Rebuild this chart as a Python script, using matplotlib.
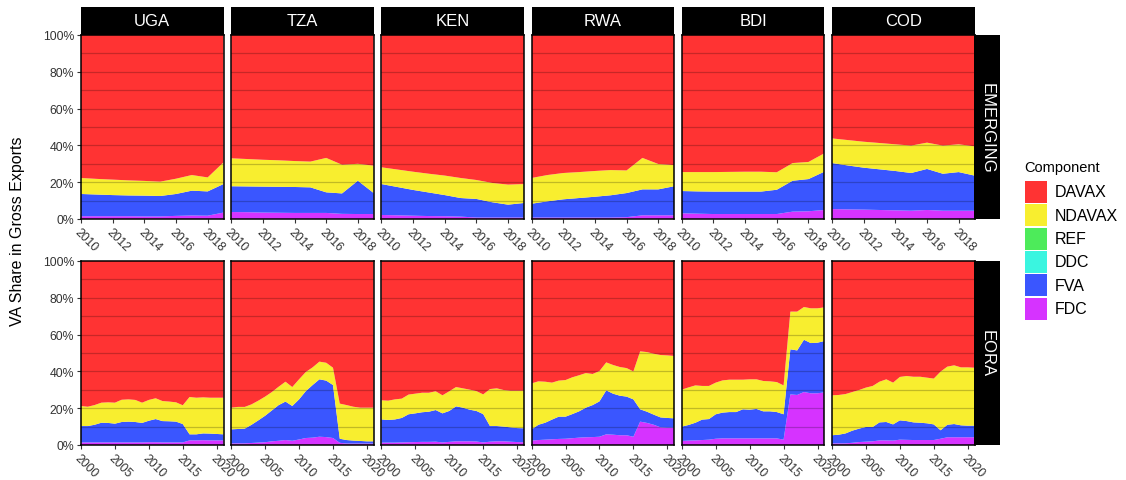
import matplotlib
matplotlib.use("Agg")
import matplotlib.pyplot as plt
from matplotlib.patches import Rectangle
from matplotlib.ticker import FuncFormatter

plt.rcParams['font.family'] = ['Liberation Sans', 'DejaVu Sans']

# Datos (porcentaje del valor agregado en exportaciones brutas)
countries = ["UGA", "TZA", "KEN", "RWA", "BDI", "COD"]
sources = ["EMERGING", "EORA"]
years_em = list(range(2010, 2020))
years_eora = list(range(2000, 2022))

components = ["DAVAX", "NDAVAX", "REF", "DDC", "FVA", "FDC"]
colors = {"DAVAX": "#FF3333", "NDAVAX": "#F8EE2F", "REF": "#4DEB5A",
          "DDC": "#3AF5E0", "FVA": "#3A56FF", "FDC": "#D633FF"}

# EMERGING 2010-2019
em_fdc = {
    "UGA": [1.5, 1.5, 1.5, 1.5, 1.4, 1.4, 1.7, 1.9, 1.8, 3.5],
    "TZA": [3.8, 3.7, 3.5, 3.4, 3.3, 3.3, 3.3, 2.8, 2.7, 2.7],
    "KEN": [2.2, 2.0, 1.8, 1.6, 1.5, 1.3, 0.8, 0.8, 0.8, 0.8],
    "RWA": [0.8, 0.8, 0.8, 0.8, 0.8, 0.8, 1.0, 2.0, 2.0, 2.0],
    "BDI": [3.1, 2.9, 2.7, 2.7, 2.7, 2.7, 2.7, 4.0, 4.2, 4.9],
    "COD": [5.4, 5.2, 5.1, 4.9, 4.7, 4.5, 4.9, 4.5, 4.5, 4.5],
}
em_fva = {
    "UGA": [12.1, 11.8, 11.5, 11.3, 11.3, 11.1, 11.9, 13.5, 13.2, 15.5],
    "TZA": [14.0, 14.0, 14.1, 14.1, 14.1, 13.9, 11.2, 11.1, 18.1, 11.4],
    "KEN": [16.8, 15.4, 14.0, 12.8, 11.5, 10.1, 10.1, 8.3, 7.0, 7.9],
    "RWA": [7.5, 8.8, 9.9, 10.6, 11.3, 12.1, 13.1, 14.1, 14.1, 15.8],
    "BDI": [12.1, 12.1, 12.2, 12.2, 12.2, 12.2, 13.2, 16.8, 17.5, 20.8],
    "COD": [25.0, 23.9, 22.8, 22.1, 21.4, 20.5, 22.3, 20.1, 21.0, 19.1],
}
em_ndavax = {
    "UGA": [8.7, 8.5, 8.4, 8.2, 8.0, 7.8, 8.3, 8.5, 7.6, 11.8],
    "TZA": [15.2, 14.9, 14.6, 14.4, 14.1, 14.0, 18.7, 15.6, 9.2, 14.9],
    "KEN": [9.1, 9.5, 9.9, 10.2, 10.6, 10.9, 10.3, 10.5, 10.9, 10.3],
    "RWA": [14.0, 14.3, 14.3, 14.1, 14.0, 13.7, 12.3, 17.1, 13.8, 11.5],
    "BDI": [10.3, 10.5, 10.6, 10.7, 10.8, 10.8, 9.5, 9.6, 9.3, 10.0],
    "COD": [13.4, 13.8, 14.1, 14.3, 14.5, 14.9, 14.3, 15.3, 15.1, 15.9],
}
em_davax = {
    "UGA": [77.7, 78.2, 78.6, 79.0, 79.3, 79.7, 78.1, 76.1, 77.4, 69.2],
    "TZA": [67.0, 67.4, 67.8, 68.1, 68.5, 68.8, 66.8, 70.5, 70.0, 71.0],
    "KEN": [71.9, 73.1, 74.3, 75.4, 76.4, 77.7, 78.8, 80.4, 81.3, 81.0],
    "RWA": [77.7, 76.1, 75.0, 74.5, 73.9, 73.4, 73.6, 66.8, 70.1, 70.7],
    "BDI": [74.5, 74.5, 74.5, 74.4, 74.3, 74.3, 74.6, 69.6, 69.0, 64.3],
    "COD": [56.2, 57.1, 58.0, 58.7, 59.4, 60.1, 58.5, 60.1, 59.4, 60.5],
}

# EORA 2000-2021
eora_fdc = {
    "UGA": [1.4, 1.4, 1.4, 1.4, 1.4, 1.4, 1.4, 1.4, 1.4, 1.4, 1.5, 1.5, 1.4, 1.4, 1.4, 1.4,
            2.5, 2.5, 2.6, 2.5, 2.5, 2.5],
    "TZA": [0.9, 0.9, 0.9, 1.1, 1.3, 1.5, 2.0, 2.3, 2.7, 2.3, 3.0, 3.8, 4.0, 4.5, 4.3, 3.8,
            1.2, 0.8, 0.8, 0.8, 0.8, 0.8],
    "KEN": [1.3, 1.3, 1.3, 1.4, 1.5, 1.6, 1.7, 1.7, 1.8, 1.4, 1.7, 2.0, 2.0, 2.0, 1.9, 1.4,
            1.8, 2.0, 2.0, 1.8, 1.6, 1.5],
    "RWA": [2.4, 2.7, 2.9, 3.1, 3.3, 3.4, 3.7, 4.0, 4.2, 4.3, 4.5, 5.8, 5.6, 5.3, 5.3, 4.5,
            12.7, 12.0, 11.0, 9.6, 9.4, 9.4],
    "BDI": [2.2, 2.4, 2.5, 2.7, 2.9, 3.4, 3.6, 3.6, 3.6, 3.6, 3.6, 3.6, 3.6, 3.6, 3.6, 2.9,
            27.5, 27.2, 28.8, 28.1, 28.1, 28.6],
    "COD": [0.9, 0.9, 0.9, 1.2, 1.6, 1.8, 2.0, 2.5, 2.5, 2.4, 2.9, 2.8, 2.7, 2.7, 2.7, 2.7,
            3.4, 4.2, 4.2, 4.2, 4.2, 4.2],
}
eora_fva = {
    "UGA": [8.9, 8.9, 9.6, 10.7, 10.6, 10.2, 11.1, 11.3, 11.1, 10.6, 11.7, 12.6, 11.6, 11.5, 11.3, 10.0,
            3.3, 3.3, 3.7, 3.7, 3.5, 3.3],
    "TZA": [7.6, 7.8, 8.0, 9.9, 12.1, 14.4, 16.8, 19.4, 20.9, 18.9, 21.8, 25.5, 28.6, 31.2, 30.7, 28.8,
            2.2, 1.9, 1.6, 1.4, 1.2, 1.2],
    "KEN": [12.6, 12.3, 12.6, 13.3, 15.2, 15.6, 16.1, 16.4, 17.2, 15.8, 16.8, 19.0, 18.3, 17.2, 16.6, 15.4,
            8.5, 8.3, 8.0, 7.8, 7.6, 7.6],
    "RWA": [6.1, 8.3, 9.2, 10.7, 12.1, 12.0, 13.1, 14.3, 16.1, 17.4, 19.2, 23.9, 22.3, 21.5, 21.0, 20.3,
            6.7, 6.1, 5.5, 5.4, 5.3, 5.1],
    "BDI": [7.8, 8.5, 9.6, 11.1, 11.2, 13.3, 14.0, 14.3, 14.3, 15.8, 15.6, 16.0, 14.7, 14.7, 14.3, 13.8,
            24.5, 24.2, 28.4, 27.3, 27.5, 27.9],
    "COD": [4.4, 4.7, 5.4, 6.6, 7.3, 8.0, 7.8, 9.8, 10.0, 8.8, 10.5, 10.2, 9.6, 9.4, 9.1, 8.5,
            4.6, 6.8, 7.2, 6.5, 6.3, 6.3],
}
eora_ndavax = {
    "UGA": [10.9, 10.5, 10.7, 10.9, 11.2, 11.4, 12.1, 12.1, 12.0, 11.0, 11.3, 11.3, 10.9, 10.7, 10.5, 10.2,
            20.3, 19.9, 19.6, 19.5, 19.7, 19.9],
    "TZA": [11.8, 12.0, 11.8, 11.1, 10.7, 10.4, 10.0, 10.0, 10.8, 10.3, 10.9, 10.4, 9.6, 9.6, 9.7, 9.4,
            19.1, 19.0, 18.4, 18.1, 18.3, 18.3],
    "KEN": [10.4, 10.5, 10.9, 10.5, 10.7, 10.7, 10.6, 10.3, 10.2, 9.8, 10.7, 10.5, 10.5, 10.9, 10.8, 10.7,
            20.1, 20.5, 19.9, 19.9, 20.3, 20.4],
    "RWA": [25.0, 23.6, 22.3, 20.1, 19.6, 19.9, 20.0, 19.6, 18.8, 16.9, 16.5, 15.2, 15.6, 15.6, 15.5, 15.2,
            31.5, 32.4, 33.1, 33.9, 34.0, 33.9],
    "BDI": [20.1, 20.4, 20.3, 18.3, 18.0, 17.2, 17.5, 17.6, 17.6, 16.1, 16.5, 16.1, 16.5, 16.3, 16.3, 15.7,
            20.5, 21.1, 17.8, 18.9, 18.7, 18.3],
    "COD": [21.7, 21.6, 21.4, 21.0, 21.0, 21.4, 22.3, 22.1, 23.2, 22.7, 23.6, 24.5, 24.8, 25.0, 24.8, 24.9,
            31.9, 31.6, 31.9, 31.5, 31.7, 31.5],
}
eora_davax = {
    "UGA": [78.8, 79.2, 78.3, 77.0, 76.8, 77.0, 75.4, 75.2, 75.5, 77.0, 75.5, 74.6, 76.1, 76.4, 76.8, 78.4,
            73.9, 74.3, 74.1, 74.3, 74.3, 74.3],
    "TZA": [79.7, 79.3, 79.3, 77.9, 75.9, 73.7, 71.2, 68.3, 65.6, 68.5, 64.3, 60.3, 57.8, 54.7, 55.3, 58.0,
            77.5, 78.3, 79.2, 79.7, 79.7, 79.7],
    "KEN": [75.7, 75.9, 75.2, 74.8, 72.6, 72.1, 71.6, 71.6, 70.8, 73.0, 70.8, 68.5, 69.2, 69.9, 70.7, 72.5,
            69.6, 69.2, 70.1, 70.5, 70.5, 70.5],
    "RWA": [66.5, 65.4, 65.6, 66.1, 65.0, 64.7, 63.2, 62.1, 60.9, 61.4, 59.8, 55.1, 56.5, 57.6, 58.2, 60.0,
            49.1, 49.5, 50.4, 51.1, 51.3, 51.6],
    "BDI": [69.9, 68.7, 67.6, 67.9, 67.9, 66.1, 64.9, 64.5, 64.5, 64.5, 64.3, 64.3, 65.2, 65.4, 65.8, 67.6,
            27.5, 27.5, 25.0, 25.7, 25.7, 25.2],
    "COD": [73.0, 72.8, 72.3, 71.2, 70.1, 68.8, 67.9, 65.6, 64.3, 66.1, 63.0, 62.5, 62.9, 62.9, 63.4, 63.9,
            60.1, 57.4, 56.7, 57.8, 57.8, 58.0],
}

# Filas de la rejilla: (fuente, años, datos, ticks)
rows = [
    ("EMERGING", years_em, em_fdc, em_fva, em_ndavax, em_davax, list(range(2010, 2019, 2))),
    ("EORA", years_eora, eora_fdc, eora_fva, eora_ndavax, eora_davax, list(range(2000, 2021, 5))),
]

W, H = 1126, 481
fig = plt.figure(figsize=(W / 100, H / 100), dpi=100)

def fx(px):
    return px / W

def fy(px):
    return 1 - px / H

panel_left = [81 + i * 150.2 for i in range(6)]
panel_w = 142.5
row_top = [36, 262]
row_bot = [220, 446]
tick_color = "#333333"

for r, (src, years, fdc, fva, ndavax, davax, xticks) in enumerate(rows):
    for c, ctry in enumerate(countries):
        ax = fig.add_axes([fx(panel_left[c]), fy(row_bot[r]), fx(panel_w),
                           (row_bot[r] - row_top[r]) / H])
        ax.stackplot(years, fdc[ctry], fva[ctry], ndavax[ctry], davax[ctry],
                     colors=[colors["FDC"], colors["FVA"], colors["NDAVAX"], colors["DAVAX"]],
                     linewidth=0, zorder=1)
        # lineas de la rejilla encima de las areas
        for g in range(10, 100, 10):
            ax.axhline(g, color="black", alpha=0.22, linewidth=0.9, zorder=2)
        ax.set_xlim(years[0], years[-1])
        ax.set_ylim(0, 100)
        ax.set_xticks(xticks)
        ax.set_xticklabels([str(t) for t in xticks], rotation=-45, ha="left", va="top",
                           rotation_mode="anchor", fontsize=8.8, color=tick_color)
        ax.set_yticks(range(0, 101, 20))
        if c == 0:
            ax.yaxis.set_major_formatter(FuncFormatter(lambda v, p: f"{int(v)}%"))
            ax.tick_params(axis="y", labelsize=8.8, labelcolor=tick_color, length=3,
                           width=0.8, color=tick_color, pad=2)
        else:
            ax.tick_params(axis="y", length=0, labelleft=False)
        ax.tick_params(axis="x", length=3, width=0.8, color=tick_color, pad=2)
        for sp in ax.spines.values():
            sp.set_color("black")
            sp.set_linewidth(1.1)
            sp.set_zorder(3)

        # encabezado del pais
        if r == 0:
            sax = fig.add_axes([fx(panel_left[c]), fy(36), fx(panel_w), 28 / H])
            sax.set_facecolor("black")
            sax.set_xticks([])
            sax.set_yticks([])
            for sp in sax.spines.values():
                sp.set_visible(False)
            sax.text(0.5, 0.5, ctry, color="white", fontsize=12, ha="center",
                     va="center", transform=sax.transAxes)

    # etiqueta de la fuente a la derecha
    rax = fig.add_axes([fx(974), fy(row_bot[r]), fx(26), (row_bot[r] - row_top[r]) / H])
    rax.set_facecolor("black")
    rax.set_xticks([])
    rax.set_yticks([])
    for sp in rax.spines.values():
        sp.set_visible(False)
    rax.text(0.5, 0.5, src, color="white", fontsize=12, ha="center", va="center",
             rotation=-90, transform=rax.transAxes)

fig.text(fx(18), fy(231), "VA Share in Gross Exports", rotation=90, ha="center",
         va="center", fontsize=11.5, color="black")

# Leyenda dibujada a mano
fig.text(fx(1024), fy(168), "Component", ha="left", va="center", fontsize=10.5,
         color="black")
for i, comp in enumerate(components):
    top = 182 + i * 23.3
    fig.patches.append(Rectangle((fx(1025), fy(top + 22)), fx(22), 22 / H,
                                 facecolor=colors[comp], edgecolor="none",
                                 transform=fig.transFigure, figure=fig))
    fig.text(fx(1055), fy(top + 11), comp, ha="left", va="center", fontsize=11.5,
             color="black")

fig.savefig("out.png", dpi=100)
